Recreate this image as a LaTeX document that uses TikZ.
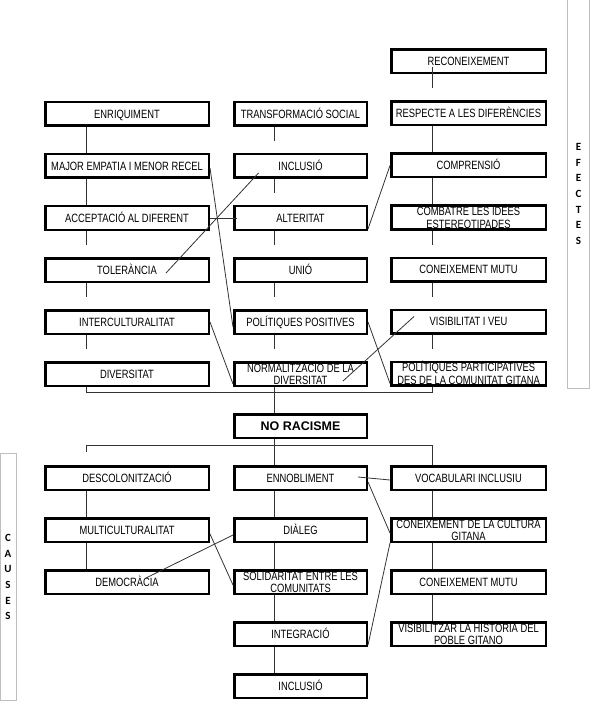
\documentclass[tikz,border=0pt]{standalone}
\usepackage{fontspec}
\setmainfont{Liberation Sans}[FakeStretch=0.78]
\newfontfamily\plainfam{Liberation Sans}
\newfontfamily\sidefam{Carlito}
\usetikzlibrary{positioning}

\tikzset{
  box/.style={draw, line width=2.5pt, minimum height=23.5pt, inner sep=0pt,
    align=center, text height=8.6pt, text depth=0pt,
    font=\fontsize{12}{12.5}\selectfont},
  lbox/.style={box, minimum width=163.5pt},
  mbox/.style={box, minimum width=132.5pt},
  rbox/.style={box, minimum width=154.5pt},
  two/.style={text height=21.1pt},
  link/.style={draw=black!80, line width=0.8pt},
  stub/.style={link, shorten >=12pt},
  side/.style={draw=black!25, line width=1pt},
  sidetext/.style={align=center, font=\sidefam\bfseries\fontsize{11}{15.7}\selectfont},
}

\begin{document}
\begin{tikzpicture}[x=1pt, y=1pt, node distance=26pt]
  \useasboundingbox (0,0) rectangle (603,-719);
  \coordinate (lx) at (86,0);
  \coordinate (mx) at (274.5,0);
  \coordinate (rx) at (432,0);

  % efectes
  \node[lbox] (enriq) at (127,-114) {ENRIQUIMENT};
  \node[lbox, below=of enriq] (empat) {MAJOR EMPATIA I MENOR RECEL};
  \node[lbox, below=of empat] (accep) {ACCEPTACIÓ AL DIFERENT};
  \node[lbox, below=of accep] (toler) {TOLERÀNCIA};
  \node[lbox, below=of toler] (inter) {INTERCULTURALITAT};
  \node[lbox, below=of inter] (diver) {DIVERSITAT};

  \node[mbox] (transf) at (300.5,-114) {TRANSFORMACIÓ SOCIAL};
  \node[mbox, below=of transf] (inclu) {INCLUSIÓ};
  \node[mbox, below=of inclu] (alter) {ALTERITAT};
  \node[mbox, below=of alter] (unio) {UNIÓ};
  \node[mbox, below=of unio] (polpos) {POLÍTIQUES POSITIVES};
  \node[mbox, two, below=of polpos] (norm) {NORMALITZACIÓ DE LA\\DIVERSITAT};

  \node[rbox] (recon) at (468.5,-61.5) {RECONEIXEMENT};
  \node[rbox, below=of recon] (respe) {RESPECTE A LES DIFERÈNCIES};
  \node[rbox, below=of respe] (compr) {COMPRENSIÓ};
  \node[rbox, two, below=of compr] (comba) {COMBATRE LES IDEES\\ESTEREOTIPADES};
  \node[rbox, below=of comba] (conmu) {CONEIXEMENT MUTU};
  \node[rbox, below=of conmu] (visib) {VISIBILITAT I VEU};
  \node[rbox, two, below=of visib] (polpar) {POLÍTIQUES PARTICIPATIVES\\DES DE LA COMUNITAT GITANA};

  \node[mbox, below=of norm, font=\plainfam\bfseries\fontsize{12.5}{14}\selectfont] (norac) {NO RACISME};

  % causes
  \node[lbox] (descol) at (127,-478) {DESCOLONITZACIÓ};
  \node[lbox, below=of descol] (multi) {MULTICULTURALITAT};
  \node[lbox, below=of multi] (democ) {DEMOCRÀCIA};

  \node[mbox, below=of norac] (ennob) {ENNOBLIMENT};
  \node[mbox, below=of ennob] (dialeg) {DIÀLEG};
  \node[mbox, two, below=of dialeg] (solid) {SOLIDARITAT ENTRE LES\\COMUNITATS};
  \node[mbox, below=of solid] (integ) {INTEGRACIÓ};
  \node[mbox, below=of integ] (inclb) {INCLUSIÓ};

  \node[rbox] (vocab) at (468.5,-478) {VOCABULARI INCLUSIU};
  \node[rbox, two, below=of vocab] (conc) {CONEIXEMENT DE LA CULTURA\\GITANA};
  \node[rbox, below=of conc] (conmb) {CONEIXEMENT MUTU};
  \node[rbox, two, below=of conmb] (vishi) {VISIBILITZAR LA HISTÒRIA DEL\\POBLE GITANO};

  % side labels
  \draw[side] (567.5,0) -- (567.5,-388) -- (589.5,-388) -- (589.5,0);
  \node[sidetext] (efe) at (578.5,-194) {E\\F\\E\\C\\T\\E\\S};
  \draw[side] (0.5,-453) rectangle (16.5,-700);
  \node[sidetext] (cau) at (8,-577) {C\\A\\U\\S\\E\\S};

  % columnes, efectes
  \draw[link] (enriq.south -| lx) -- (empat.north -| lx);
  \draw[link] (empat.south -| lx) -- (accep.north -| lx);
  \draw[stub] (accep.south -| lx) -- (toler.north -| lx);
  \draw[stub] (toler.south -| lx) -- (inter.north -| lx);
  \draw[stub] (inter.south -| lx) -- (diver.north -| lx);
  \draw[stub] (transf.south -| mx) -- (inclu.north -| mx);
  \draw[stub] (inclu.south -| mx) -- (alter.north -| mx);
  \draw[stub] (alter.south -| mx) -- (unio.north -| mx);
  \draw[stub] (unio.south -| mx) -- (polpos.north -| mx);
  \draw[stub] (polpos.south -| mx) -- (norm.north -| mx);
  \draw[stub] ([yshift=-5.5pt]recon.center -| rx) -- (respe.north -| rx);
  \draw[link] (respe.south -| rx) -- (compr.north -| rx);
  \draw[link] (compr.south -| rx) -- (comba.north -| rx);
  \draw[stub] (comba.south -| rx) -- (conmu.north -| rx);
  \draw[stub] (conmu.south -| rx) -- (visib.north -| rx);
  \draw[stub] (visib.south -| rx) -- (polpar.north -| rx);

  % creuades, efectes
  \draw[link] ([yshift=-2pt]empat.east) -- ([yshift=-5pt]polpos.west);
  \draw[link] ([shift={(39,-3)}]toler.center) -- ([shift={(-42,-7)}]inclu.center);
  \draw[link] (accep.east) -- ([xshift=4pt]alter.west);
  \draw[link] ([yshift=2pt]alter.south east) -- (compr.west);
  \draw[link] (inter.east) -- ([yshift=3pt]norm.south west);
  \draw[link] (polpos.east) -- ([yshift=3pt]polpar.south west);
  \draw[link] ([shift={(42.5,-7)}]norm.center) -- ([shift={(-54.5,5)}]visib.center);

  % cap a NO RACISME
  \draw[link] (diver.south -| lx) -- ++(0,-5) -| (polpar.south -| rx);
  \draw[link] (norm.south -| mx) -- (norac.north -| mx);
  \draw[link] (norac.south -| mx) -- (ennob.north -| mx);
  \path (descol.north -| lx) ++(0,13) coordinate (tick);
  \draw[link] (vocab.north -| rx) |- (tick |- 0,-445) -- (tick);

  % columnes, causes
  \draw[link] (descol.south -| lx) -- (multi.north -| lx);
  \draw[link] (multi.south -| lx) -- (democ.north -| lx);
  \draw[link] (ennob.south -| mx) -- (dialeg.north -| mx);
  \draw[link] (dialeg.south -| mx) -- (solid.north -| mx);
  \draw[link] (solid.south -| mx) -- (integ.north -| mx);
  \draw[link] (integ.south -| mx) -- (inclb.north -| mx);
  \draw[link] (vocab.south -| rx) -- (conc.north -| rx);
  \draw[link] (conc.south -| rx) -- (conmb.north -| rx);
  \draw[link] (conmb.south -| rx) -- (vishi.north -| rx);

  % creuades, causes
  \draw[link] ([yshift=-5pt]dialeg.west) -- ([shift={(19,4)}]democ.center);
  \draw[link] ([yshift=-4pt]multi.east) -- ([yshift=-3pt]solid.west);
  \draw[link] ([shift={(57.5,1)}]ennob.center) -- ([yshift=-2pt]vocab.west);
  \draw[link] ([yshift=-4pt]ennob.east) -- ([yshift=-3pt]conc.west);
  \draw[link] ([yshift=2pt]integ.south east) -- (conc.south west);
\end{tikzpicture}
\end{document}
